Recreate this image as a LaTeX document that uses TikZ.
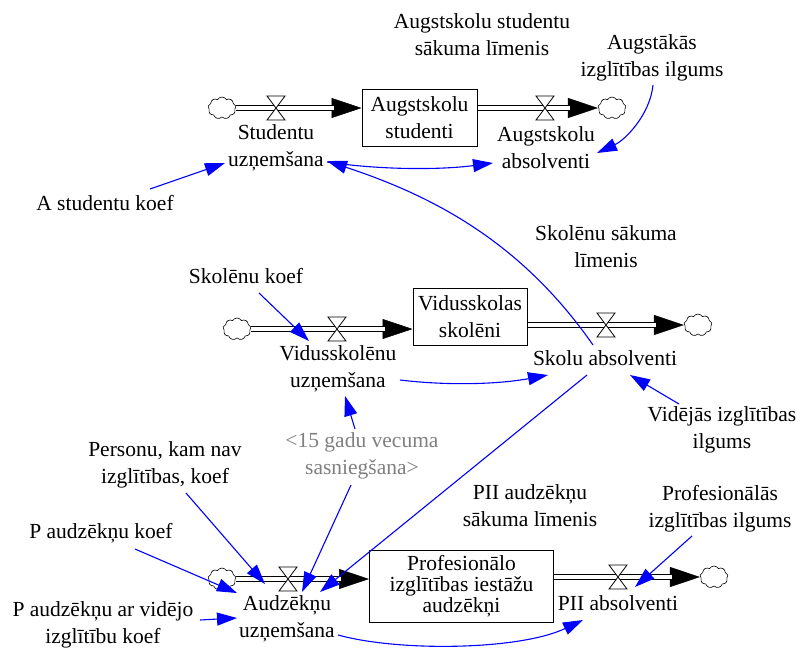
\documentclass[tikz,border=0pt]{standalone}
\usepackage{fontspec}
\IfFontExistsTF{LiberationSerif-Regular.ttf}{\setmainfont{LiberationSerif-Regular.ttf}}{\setmainfont{Liberation Serif}}
\usetikzlibrary{arrows.meta,shapes.symbols,calc}
\newcommand\valveat[1]{\draw[line width=0.8pt, fill=white] ([shift={(-9,-12)}]#1) -- ([shift={(9,-12)}]#1) -- ([shift={(-9,12)}]#1) -- ([shift={(9,12)}]#1) -- cycle;}
\begin{document}
\begin{tikzpicture}[x=1pt,y=-1pt,
  lbl/.style={align=center, font=\rmfamily\fontsize{21.5}{27}\selectfont, inner sep=1pt},
  grey/.style={lbl, text=gray},
  stock/.style={draw, line width=1pt, align=center, font=\rmfamily\fontsize{21.5}{27}\selectfont, inner sep=0pt},
  cloudy/.style={cloud, cloud puffs=9, cloud puff arc=120, draw, line width=0.6pt, minimum width=28pt, minimum height=22pt, inner sep=0pt, aspect=1.3},
  pipe/.style={double, double distance=3.4pt, line width=1pt, shorten >=28pt},
  pipetip/.style={line width=0.5pt, -{Triangle[length=30pt,width=20pt]}},
  link/.style={blue, line width=1.1pt, -{Triangle[length=20pt,width=13pt]}},
  valvept/.style={coordinate}
]
\useasboundingbox (0,0) rectangle (796,649);

% ---------- top row ----------
\node[stock, minimum width=115pt, minimum height=57pt] (b1) at (419.5,117.5) {Augstskolu\\studenti};
\node[cloudy] (c1) at (222,108) {};
\node[cloudy] (c2) at (612,108) {};
\node[valvept] (v1) at (276,108) {};
\node[valvept] (v2) at (545,108) {};
\draw[pipetip] (c1.east) -- (c1.east -| b1.west);
\draw[pipe] (c1.east) -- (c1.east -| b1.west);
\draw[pipetip] (c2.west -| b1.east) -- (c2.west);
\draw[pipe] (c2.west -| b1.east) -- (c2.west);
\valveat{v1}
\valveat{v2}

\node[lbl] (ssl) at (482,35) {Augstskolu studentu\\sākuma līmenis};
\node[lbl] (ail) at (652,58) {Augstākās\\izglītības ilgums};
\node[lbl] (su) at (276,148) {Studentu\\uzņemšana};
\node[lbl] (aa) at (546,148) {Augstskolu\\absolventi};
\node[lbl] (ask) at (105,203) {A studentu koef};

% ---------- middle row ----------
\node[stock, minimum width=114pt, minimum height=57pt] (b2) at (470,317) {Vidusskolas\\skolēni};
\node[cloudy] (c3) at (237,329) {};
\node[cloudy] (c4) at (698,325) {};
\node[valvept] (v3) at (337,329) {};
\node[valvept] (v4) at (606,325) {};
\draw[pipetip] (c3.east) -- (c3.east -| b2.west);
\draw[pipe] (c3.east) -- (c3.east -| b2.west);
\draw[pipetip] (c4.west -| b2.east) -- (c4.west);
\draw[pipe] (c4.west -| b2.east) -- (c4.west);
\valveat{v3}
\valveat{v4}

\node[lbl] (sk) at (246,276) {Skolēnu koef};
\node[lbl] (vu) at (338,369) {Vidusskolēnu\\uzņemšana};
\node[lbl] (sa) at (605,358) {Skolu absolventi};
\node[lbl] (ssl2) at (606,247) {Skolēnu sākuma\\līmenis};
\node[lbl] (vil) at (722,430) {Vidējās izglītības\\ilgums};
\node[grey] (g15) at (362,456) {<15 gadu vecuma\\sasniegšana>};

% ---------- bottom row ----------
\node[stock, minimum width=184pt, minimum height=72pt, font=\rmfamily\fontsize{21.5}{21}\selectfont] (b3) at (461.5,586) {Profesionālo\\izglītības iestāžu\\audzēkņi};
\node[cloudy] (c5) at (222,579) {};
\node[cloudy] (c6) at (714,577) {};
\node[valvept] (v5) at (288,579) {};
\node[valvept] (v6) at (618,577) {};
\draw[pipetip] (c5.east) -- (c5.east -| b3.west);
\draw[pipe] (c5.east) -- (c5.east -| b3.west);
\draw[pipetip] (c6.west -| b3.east) -- (c6.west);
\draw[pipe] (c6.west -| b3.east) -- (c6.west);
\valveat{v5}
\valveat{v6}

\node[lbl] (pkn) at (165,465) {Personu, kam nav\\izglītības, koef};
\node[lbl] (pak) at (101,533) {P audzēkņu koef};
\node[lbl] (pav) at (103,625) {P audzēkņu ar vidējo\\izglītību koef};
\node[lbl] (au) at (287,619) {Audzēkņu\\uzņemšana};
\node[lbl] (piiabs) at (618,603) {PII absolventi};
\node[lbl] (piisl) at (530,506) {PII audzēkņu\\sākuma līmenis};
\node[lbl] (pil) at (720,509) {Profesionālās\\izglītības ilgums};

% ---------- links ----------
\draw[link] ([shift={(45,-14)}]ask.center) -- ([shift={(-51,15)}]su.center);
\draw[link] ([shift={(51,14)}]su.center) .. controls (380,170) and (440,170) .. ([shift={(-53,15)}]aa.center);
\draw[link] ([shift={(1,27)}]ail.center) .. controls (650,115) and (625,140) .. ([shift={(51,5)}]aa.center);
\draw[link] ([shift={(-12,-13)}]sa.center) .. controls (520,240) and (430,195) .. ([shift={(51,13)}]su.center);
\draw[link] ([shift={(13,17)}]sk.center) -- ([shift={(-29,-28)}]vu.center);
\draw[link] ([shift={(62,11)}]vu.center) .. controls (450,386) and (500,384) .. ([shift={(-57,17)}]sa.center);
\draw[link] ([shift={(-43,-26)}]vil.center) -- ([shift={(25,17)}]sa.center);
\draw[link] ([shift={(-7,-27)}]g15.center) -- ([shift={(7,27)}]vu.center);
\draw[link] ([shift={(-18,17)}]sa.center) -- ([shift={(33,-27)}]au.center);
\draw[link] ([shift={(-11,29)}]g15.center) -- ([shift={(15,-27)}]au.center);
\draw[link] ([shift={(21,28)}]pkn.center) -- ([shift={(-22,-35)}]au.center);
\draw[link] ([shift={(34,16)}]pak.center) -- ([shift={(-50,-26)}]au.center);
\draw[link] ([shift={(97,-5)}]pav.center) -- ([shift={(-50,-1)}]au.center);
\draw[link] ([shift={(51,16)}]au.center) .. controls (400,652) and (520,650) .. ([shift={(-35,17)}]piiabs.center);
\draw[link] ([shift={(-28,27)}]pil.center) -- ([shift={(17,-16)}]piiabs.center);
\end{tikzpicture}
\end{document}
